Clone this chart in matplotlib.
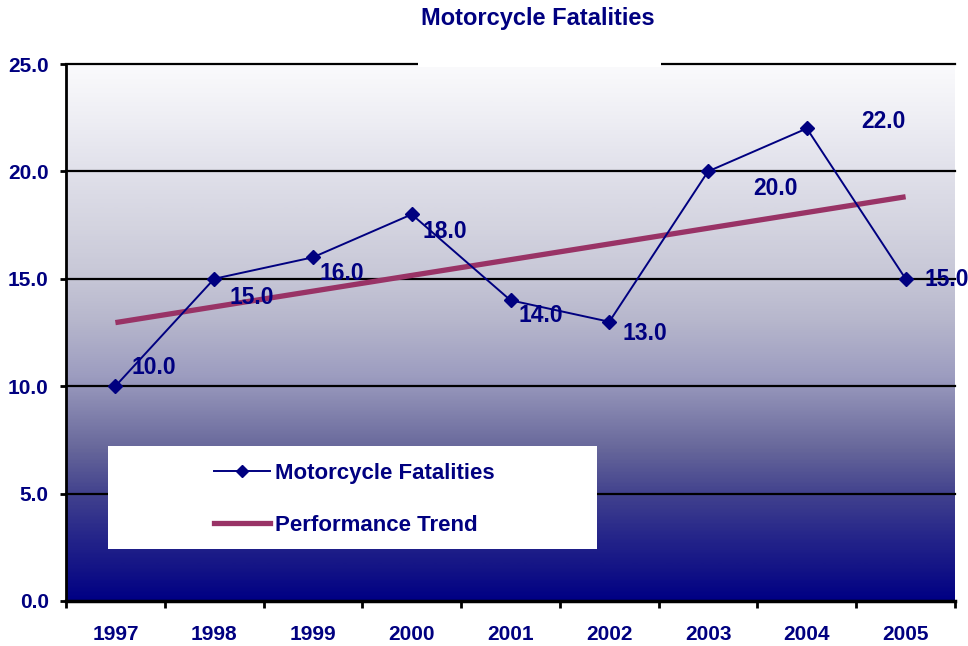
import numpy as np
import matplotlib
matplotlib.use("Agg")
from matplotlib import pyplot as plt
from matplotlib.colors import LinearSegmentedColormap
from matplotlib.patches import Rectangle
from matplotlib.lines import Line2D

years = ["1997", "1998", "1999", "2000", "2001", "2002", "2003", "2004", "2005"]
fatalities = [10.0, 15.0, 16.0, 18.0, 14.0, 13.0, 20.0, 22.0, 15.0]
# trend line end points (1997 and 2005)
trend_years = [0, 8]
trend_values = [12.96, 18.82]
yticks = [0.0, 5.0, 10.0, 15.0, 20.0, 25.0]

# label offsets in pixels (dx, dy of baseline)
label_offsets = [(16, 12), (15, -25), (7, -23), (11, -24), (8, -22),
                 (13, -18), (45, -24), (54, 0), (19, -7)]

NAVY = "#000080"
TREND = "#993366"
FONT = "Liberation Sans"

fig = plt.figure(figsize=(9.68, 6.46), dpi=100)
W, H = 968, 646
ax = fig.add_axes([66 / W, 1 - 601 / H, (955 - 66) / W, (601 - 64) / H])

# gradient background
stops = [(0.0, "#000084"), (0.06, "#141486"), (0.12, "#26268a"), (0.2, "#43438e"),
         (0.28, "#66669a"), (0.34, "#7e7eaa"), (0.42, "#9d9dc0"), (0.52, "#b6b6cc"),
         (0.6, "#c6c6d6"), (0.7, "#d4d4e0"), (0.8, "#e0e0ea"), (0.9, "#eeeef4"),
         (1.0, "#fafafc")]
cmap = LinearSegmentedColormap.from_list("bg", stops)
grad = np.linspace(1, 0, 400).reshape(-1, 1)
ax.imshow(grad, cmap=cmap, aspect="auto", extent=[-0.5, 8.5, 0, 25],
          vmin=0, vmax=1, zorder=0, interpolation="bilinear")

x = np.arange(len(years))
ax.plot(trend_years, trend_values, color=TREND, lw=3.8, zorder=2,
        solid_capstyle="butt")
ax.plot(x, fatalities, color=NAVY, lw=1.4, marker="D", ms=7, zorder=3)

for i, v in enumerate(fatalities):
    dx, dy = label_offsets[i]
    ax.annotate(f"{v:.1f}", (x[i], v), xytext=(dx, dy), textcoords="offset pixels",
                ha="left", va="baseline", color=NAVY, fontsize=16.5,
                fontweight="bold", family=FONT, zorder=6)

ax.set_xlim(-0.5, 8.5)
ax.set_ylim(0, 25)

for yv in yticks[1:]:
    ax.axhline(yv, color="black", lw=1.6, zorder=1, clip_on=False)

ax.set_yticks(yticks)
ax.set_yticklabels([f"{t:.1f}" for t in yticks])
ax.set_xticks(np.arange(-0.5, 9, 1))
ax.set_xticklabels([])
ax.set_xticks(x, minor=True)
ax.set_xticklabels(years, minor=True)

ax.tick_params(axis="y", direction="out", length=4.5, width=2, pad=8,
               colors="black", labelcolor=NAVY, labelsize=15)
ax.tick_params(axis="x", which="major", direction="out", length=5, width=2)
ax.tick_params(axis="x", which="minor", length=0, pad=17,
               labelcolor=NAVY, labelsize=15)
for lab in ax.get_yticklabels() + ax.get_xticklabels(minor=True):
    lab.set_fontweight("bold")
    lab.set_family(FONT)

for s in ["top", "right"]:
    ax.spines[s].set_visible(False)
ax.spines["left"].set_linewidth(2)
ax.spines["bottom"].set_linewidth(2.5)
ax.spines["left"].set_zorder(5)
ax.spines["bottom"].set_zorder(5)

# legend box
ax.add_patch(Rectangle((108 / W, 1 - 549 / H), (597 - 108) / W, (549 - 446) / H,
                       transform=fig.transFigure, facecolor="white",
                       edgecolor="none", zorder=7, clip_on=False))
handles = [Line2D([], [], color=NAVY, lw=1.4, marker="D", ms=6),
           Line2D([], [], color=TREND, lw=3.8)]
leg = ax.legend(handles, ["Motorcycle Fatalities", "Performance Trend"],
                loc="upper left", bbox_to_anchor=(194 / W, 1 - 443 / H),
                bbox_transform=fig.transFigure, frameon=False,
                handlelength=2.5, handletextpad=0.25, labelspacing=1.38,
                prop={"family": FONT, "weight": "bold", "size": 16})
leg.set_zorder(8)
for t in leg.get_texts():
    t.set_color(NAVY)

# title with white box breaking the top line
fig.add_artist(Rectangle((418 / W, 1 - 67 / H), (661 - 418) / W, 67 / H,
                         transform=fig.transFigure, facecolor="white",
                         edgecolor="none", zorder=3))
fig.text(538 / W, 1 - 18 / H, "Motorcycle Fatalities", ha="center", va="center",
         color=NAVY, fontsize=17, fontweight="bold", family=FONT, zorder=4)

fig.savefig("out.png", dpi=100)
